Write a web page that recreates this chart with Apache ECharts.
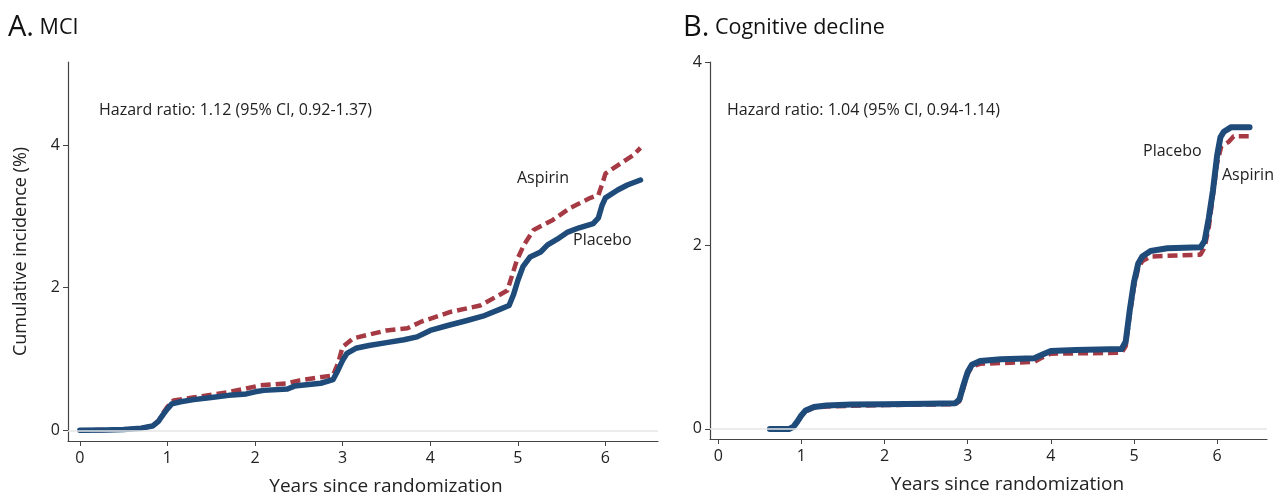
<!DOCTYPE html>
<html><head><meta charset="utf-8">
<script src="https://cdn.jsdelivr.net/npm/echarts@6/dist/echarts.min.js"></script>
<style>html,body{margin:0;padding:0;background:#fff}#c{width:1278px;height:497px}</style>
</head><body><div id="c"></div>
<script>
// Panel A: MCI  [years, cumulative incidence %]
const mciPlacebo = [[0,0],[0.3,0.005],[0.5,0.01],[0.7,0.03],[0.83,0.06],[0.9,0.13],[0.95,0.22],[1.0,0.3],[1.05,0.37],[1.15,0.4],[1.3,0.43],[1.5,0.46],[1.7,0.49],[1.9,0.51],[2.0,0.54],[2.1,0.56],[2.37,0.58],[2.45,0.62],[2.75,0.66],[2.89,0.71],[2.95,0.85],[3.0,0.98],[3.05,1.08],[3.15,1.15],[3.3,1.19],[3.5,1.23],[3.7,1.27],[3.85,1.31],[4.0,1.4],[4.2,1.47],[4.42,1.54],[4.6,1.6],[4.8,1.7],[4.9,1.75],[4.95,1.9],[5.0,2.1],[5.06,2.3],[5.14,2.43],[5.26,2.5],[5.34,2.6],[5.45,2.68],[5.57,2.78],[5.7,2.84],[5.86,2.9],[5.92,2.98],[5.96,3.15],[6.0,3.26],[6.14,3.37],[6.25,3.44],[6.4,3.51]];
const mciAspirin = [[0,0],[0.3,0.005],[0.5,0.01],[0.7,0.03],[0.83,0.06],[0.9,0.13],[0.95,0.24],[1.0,0.33],[1.07,0.42],[1.29,0.46],[1.68,0.53],[2.06,0.63],[2.37,0.66],[2.51,0.7],[2.89,0.77],[2.95,0.95],[3.0,1.17],[3.12,1.29],[3.5,1.4],[3.74,1.43],[3.89,1.52],[4.23,1.66],[4.57,1.75],[4.88,1.96],[4.99,2.39],[5.07,2.6],[5.18,2.81],[5.4,2.95],[5.6,3.12],[5.83,3.26],[5.92,3.3],[5.97,3.48],[6.0,3.6],[6.17,3.74],[6.32,3.86],[6.4,3.96]];
// Panel B: Cognitive decline
const cogPlacebo = [[0.62,0],[0.85,0],[0.9,0.02],[0.95,0.08],[1.0,0.15],[1.05,0.2],[1.15,0.24],[1.3,0.255],[1.6,0.265],[2.0,0.27],[2.5,0.275],[2.85,0.28],[2.9,0.32],[2.95,0.48],[3.0,0.62],[3.05,0.7],[3.15,0.74],[3.4,0.76],[3.8,0.77],[3.9,0.81],[4.0,0.85],[4.3,0.86],[4.85,0.87],[4.9,0.95],[4.95,1.3],[5.0,1.6],[5.05,1.8],[5.1,1.88],[5.2,1.94],[5.4,1.97],[5.8,1.98],[5.85,2.05],[5.9,2.3],[5.95,2.6],[6.0,2.98],[6.04,3.18],[6.08,3.24],[6.17,3.29],[6.39,3.29]];
const cogAspirin = [[0.62,0],[0.85,0],[0.9,0.02],[0.95,0.07],[1.0,0.14],[1.05,0.19],[1.15,0.23],[1.3,0.245],[2.0,0.26],[2.85,0.27],[2.9,0.3],[2.95,0.45],[3.0,0.6],[3.05,0.68],[3.15,0.71],[3.8,0.73],[3.9,0.78],[4.0,0.82],[4.85,0.83],[4.9,0.9],[4.95,1.25],[5.0,1.55],[5.05,1.75],[5.1,1.83],[5.2,1.88],[5.8,1.9],[5.85,1.98],[5.9,2.2],[5.95,2.55],[6.0,2.9],[6.05,3.08],[6.14,3.13],[6.2,3.19],[6.38,3.19]];
const xTicks = [0,1,2,3,4,5,6];
const yTicksA = [0,2,4];
const yTicksB = [0,2,4];

const FONT = 'Open Sans';
const BLUE = '#1f4b7a';
const RED = '#a63a44';
const txt = '#222';

function xAx(idx){
  return {type:'value', gridIndex:idx, min: idx===0?-0.135:-0.1, max: 6.6,
    name:'Years since randomization', nameLocation:'middle', nameGap:36,
    nameTextStyle:{fontFamily:FONT,fontSize:19,color:txt,padding: idx===0?[0,0,0,46]:[0,0,0,38]},
    axisLine:{show:true,onZero:false,lineStyle:{color:'#444',width:1.2}},
    axisTick:{show:true,customValues:xTicks,length:5,lineStyle:{color:'#444'}},
    axisLabel:{customValues:xTicks,fontFamily:FONT,fontSize:16,color:txt,margin:9},
    splitLine:{show:false}};
}
function yAx(idx, min, max, ticks, name){
  return {type:'value', gridIndex:idx, min:min, max:max,
    name:name, nameLocation:'middle', nameGap:38, nameRotate:90,
    nameTextStyle:{fontFamily:FONT,fontSize:18,color:txt},
    axisLine:{show:true,onZero:false,lineStyle:{color:'#444',width:1.2}},
    axisTick:{show:true,customValues:ticks,length:5,lineStyle:{color:'#444'}},
    axisLabel:{customValues:ticks,fontFamily:FONT,fontSize:16,color:txt,margin:8},
    splitLine:{show:false}};
}
const zeroLine = {silent:true,symbol:'none',label:{show:false},lineStyle:{color:'#e6e6e6',width:1.5,type:'solid'},data:[{yAxis:0}]};

const chart = echarts.init(document.getElementById('c'), null, {renderer:'canvas'});
chart.setOption({
  animation:false,
  backgroundColor:'#fff',
  grid:[{left:68,top:62,width:590,height:379,containLabel:false,outerBoundsMode:'none'},
        {left:710,top:62,width:557,height:377,containLabel:false,outerBoundsMode:'none'}],
  xAxis:[xAx(0), xAx(1)],
  yAxis:[yAx(0,-0.15,5.165,yTicksA,'Cumulative incidence (%)'), yAx(1,-0.11,4,yTicksB,'')],
  series:[
    {name:'Aspirin',type:'line',xAxisIndex:0,yAxisIndex:0,data:mciAspirin,showSymbol:false,
      lineStyle:{color:RED,width:4.5,type:[10,5]},z:2,markLine:zeroLine},
    {name:'Placebo',type:'line',xAxisIndex:0,yAxisIndex:0,data:mciPlacebo,showSymbol:false,
      lineStyle:{color:BLUE,width:5.5,cap:'round',join:'round'},z:3},
    {name:'Aspirin',type:'line',xAxisIndex:1,yAxisIndex:1,data:cogAspirin,showSymbol:false,
      lineStyle:{color:RED,width:4.5,type:[10,5]},z:2,markLine:zeroLine},
    {name:'Placebo',type:'line',xAxisIndex:1,yAxisIndex:1,data:cogPlacebo,showSymbol:false,
      lineStyle:{color:BLUE,width:6,cap:'round',join:'round'},z:3}
  ],
  graphic:[
    {type:'text',left:8,top:13,style:{text:'{a|A.}{b| MCI}',rich:{a:{fontFamily:FONT,fontSize:29,fill:'#111'},b:{fontFamily:FONT,fontSize:21.5,fill:'#111'}}}},
    {type:'text',left:683,top:13,style:{text:'{a|B.}{b| Cognitive decline}',rich:{a:{fontFamily:FONT,fontSize:29,fill:'#111'},b:{fontFamily:FONT,fontSize:21.5,fill:'#111'}}}},
    {type:'text',left:99,top:102,style:{text:'Hazard ratio: 1.12 (95% CI, 0.92-1.37)',fontFamily:FONT,fontSize:16,fill:txt}},
    {type:'text',left:727,top:102,style:{text:'Hazard ratio: 1.04 (95% CI, 0.94-1.14)',fontFamily:FONT,fontSize:16,fill:txt}},
    {type:'text',left:517,top:170,style:{text:'Aspirin',fontFamily:FONT,fontSize:16,fill:txt}},
    {type:'text',left:573,top:232,style:{text:'Placebo',fontFamily:FONT,fontSize:16,fill:txt}},
    {type:'text',left:1143,top:143,style:{text:'Placebo',fontFamily:FONT,fontSize:16,fill:txt}},
    {type:'text',left:1222,top:167,style:{text:'Aspirin',fontFamily:FONT,fontSize:16,fill:txt}}
  ]
});
</script></body></html>
